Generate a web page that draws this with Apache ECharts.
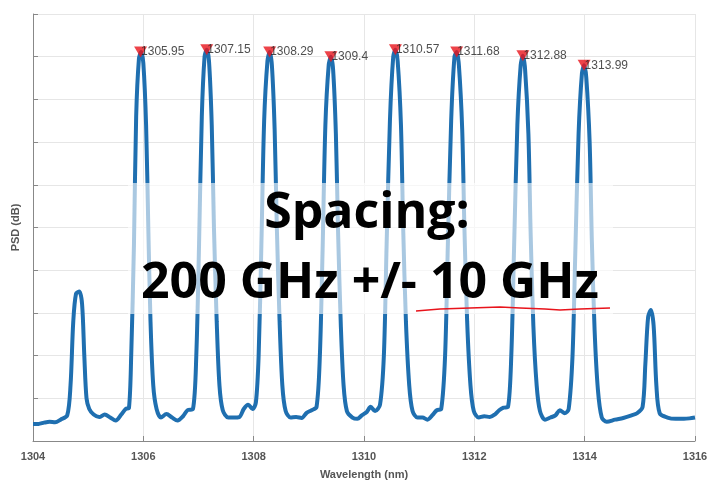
<!DOCTYPE html>
<html><head><meta charset="utf-8">
<script src="https://cdn.jsdelivr.net/npm/echarts@6/dist/echarts.min.js"></script>
<style>html,body{margin:0;padding:0;background:#fff}#c{width:715px;height:496px}</style>
</head><body><div id="c"></div>
<script>
var xTicks = [1304, 1306, 1308, 1310, 1312, 1314, 1316];
var peakWavelengths = [1305.95, 1307.15, 1308.29, 1309.4, 1310.57, 1311.68, 1312.88, 1313.99];
var peakLevels = [9.11, 9.16, 9.11, 9.0, 9.16, 9.11, 9.02, 8.8];
var peakLabels = ['1305.95','1307.15','1308.29','1309.4','1310.57','1311.68','1312.88','1313.99'];
var spectrum = [
[1304.0,0.40],[1304.1,0.40],[1304.2,0.43],[1304.3,0.45],[1304.4,0.44],[1304.5,0.50],[1304.62,0.60],[1304.68,1.3],[1304.73,2.8],[1304.78,3.45],[1304.84,3.5],[1304.89,3.2],[1304.93,2.0],[1304.97,1.0],[1305.02,0.75],[1305.1,0.62],[1305.2,0.56],[1305.3,0.62],[1305.4,0.55],[1305.5,0.48],[1305.6,0.62],[1305.68,0.75],[1305.74,0.78],
[1305.78,2.0],[1305.83,4.6],[1305.87,7.6],[1305.92,8.95],[1305.96,9.11],[1306.0,8.85],[1306.05,7.4],[1306.09,5.0],[1306.13,2.8],[1306.18,1.3],[1306.24,0.75],[1306.32,0.55],[1306.42,0.63],[1306.52,0.55],[1306.62,0.48],[1306.72,0.58],[1306.8,0.72],[1306.9,0.75],
[1306.96,2.0],[1307.01,4.6],[1307.06,7.6],[1307.11,9.0],[1307.15,9.16],[1307.19,8.9],[1307.24,7.4],[1307.28,5.0],[1307.33,2.8],[1307.38,1.3],[1307.44,0.72],[1307.54,0.55],[1307.64,0.55],[1307.74,0.56],[1307.82,0.75],[1307.9,0.85],[1307.98,0.75],[1308.04,0.9],
[1308.09,2.0],[1308.14,4.6],[1308.19,7.5],[1308.25,8.9],[1308.29,9.11],[1308.33,8.8],[1308.38,7.3],[1308.42,5.0],[1308.47,2.8],[1308.52,1.3],[1308.58,0.7],[1308.67,0.55],[1308.77,0.56],[1308.87,0.54],[1308.96,0.66],[1309.05,0.72],[1309.14,0.8],
[1309.2,2.0],[1309.25,4.5],[1309.3,7.4],[1309.36,8.8],[1309.4,9.0],[1309.44,8.7],[1309.49,7.2],[1309.53,4.9],[1309.58,2.7],[1309.63,1.3],[1309.69,0.7],[1309.79,0.55],[1309.88,0.52],[1309.96,0.6],[1310.05,0.68],[1310.12,0.8],[1310.2,0.7],[1310.29,0.85],
[1310.36,2.0],[1310.41,4.6],[1310.47,7.5],[1310.53,9.0],[1310.57,9.16],[1310.61,8.9],[1310.67,7.4],[1310.71,5.0],[1310.76,2.8],[1310.82,1.3],[1310.88,0.7],[1310.97,0.55],[1311.06,0.55],[1311.15,0.5],[1311.25,0.62],[1311.32,0.72],[1311.4,0.75],
[1311.47,2.0],[1311.52,4.6],[1311.58,7.5],[1311.64,9.0],[1311.68,9.11],[1311.72,8.8],[1311.78,7.3],[1311.82,5.0],[1311.87,2.8],[1311.93,1.3],[1311.99,0.7],[1312.08,0.55],[1312.18,0.58],[1312.28,0.56],[1312.37,0.62],[1312.45,0.72],[1312.53,0.78],[1312.61,0.8],
[1312.67,2.0],[1312.72,4.5],[1312.78,7.4],[1312.84,8.8],[1312.88,9.02],[1312.92,8.7],[1312.98,7.2],[1313.02,4.9],[1313.07,2.7],[1313.13,1.3],[1313.19,0.7],[1313.28,0.5],[1313.38,0.55],[1313.47,0.6],[1313.55,0.72],[1313.64,0.65],[1313.71,0.75],
[1313.78,2.0],[1313.83,4.4],[1313.89,7.2],[1313.95,8.6],[1313.99,8.8],[1314.03,8.5],[1314.09,7.0],[1314.13,4.7],[1314.18,2.6],[1314.24,1.2],[1314.31,0.55],[1314.4,0.45],[1314.55,0.5],[1314.7,0.54],[1314.85,0.6],[1314.95,0.65],[1315.05,0.8],
[1315.1,1.8],[1315.15,2.9],[1315.2,3.07],[1315.25,2.7],[1315.3,1.3],[1315.36,0.65],[1315.5,0.55],[1315.65,0.52],[1315.8,0.52],[1315.9,0.53],[1316.0,0.55]
];
var chart = echarts.init(document.getElementById('c'));
var gray = '#555';
chart.setOption({
  animation:false,
  grid:{left:33,right:20,top:14,bottom:55},
  xAxis:{type:'value',min:1304,max:1316,interval:2,
    axisLine:{lineStyle:{color:'#888'}},axisTick:{inside:true,lineStyle:{color:'#888'}},
    axisLabel:{color:gray,fontWeight:'bold',fontSize:11,fontFamily:'Liberation Sans',margin:10,formatter:function(v){return String(v);}},
    splitLine:{show:true,lineStyle:{color:'#e6e6e6'}},
    name:'Wavelength (nm)',nameLocation:'middle',nameGap:28,
    nameTextStyle:{color:gray,fontWeight:'bold',fontSize:11,fontFamily:'Liberation Sans'}},
  yAxis:{type:'value',min:0,max:10,interval:1,
    axisLine:{show:true,lineStyle:{color:'#888'}},axisTick:{show:true,inside:true,lineStyle:{color:'#888'}},
    axisLabel:{show:false},splitLine:{lineStyle:{color:'#e6e6e6'}},
    name:'PSD (dB)',nameLocation:'middle',nameGap:12,
    nameTextStyle:{color:gray,fontWeight:'bold',fontSize:11,fontFamily:'Liberation Sans'}},
  series:[
    {type:'line',data:spectrum,showSymbol:false,smooth:0.3,lineStyle:{color:'#1f6fb0',width:4},z:2},
    {type:'scatter',data:peakWavelengths.map(function(w,i){return [w,peakLevels[i]];}),symbol:'triangle',symbolRotate:180,symbolSize:[13,11],
     itemStyle:{color:'#e8141c'},z:4,
     label:{show:true,position:'right',distance:-6,color:'#222',fontSize:12,fontFamily:'Liberation Sans',
       formatter:function(p){return peakLabels[p.dataIndex];}}}
  ],
  graphic:[
    {type:'rect',shape:{x:128,y:183,width:485,height:131},style:{fill:'rgba(255,255,255,0.62)'},z:10},
    {type:'text',x:367,y:214,style:{text:'Spacing:',font:'bold 50px "Open Sans", sans-serif',fill:'#000',align:'center',verticalAlign:'middle'},z:11},
    {type:'text',x:370,y:284,style:{text:'200 GHz +/- 10 GHz',font:'bold 50px "Open Sans", sans-serif',fill:'#000',align:'center',verticalAlign:'middle'},z:11},
    {type:'polyline',shape:{points:[[416,311],[440,309],[470,308],[500,307],[520,308],[545,309],[560,310],[580,309],[610,308]]},style:{stroke:'#e8141c',lineWidth:1.3,fill:null},z:12}
  ]
});
</script></body></html>
